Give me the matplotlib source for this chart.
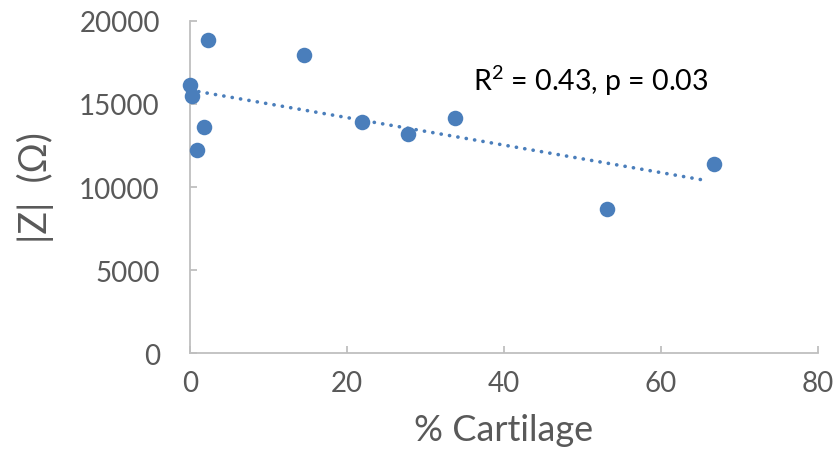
import numpy as np
import matplotlib
matplotlib.use('Agg')
import matplotlib.pyplot as plt

plt.rcParams['font.family'] = ['Lato', 'DejaVu Sans']
plt.rcParams['mathtext.fontset'] = 'custom'
plt.rcParams['mathtext.rm'] = 'Lato'
plt.rcParams['mathtext.it'] = 'Lato:italic'

# data
cartilage = [0.0, 0.2, 0.9, 1.8, 2.2, 14.5, 21.9, 27.8, 33.8, 53.1, 66.8]
impedance = [16160, 15500, 12240, 13620, 18850, 17960, 13920, 13200, 14140, 8680, 11380]
x_ticks = [0, 20, 40, 60, 80]
y_ticks = [0, 5000, 10000, 15000, 20000]

blue = '#4a7ebb'
grey = '#595959'
spine_grey = '#bfbfbf'

fig = plt.figure(figsize=(8.33, 4.56), dpi=100)
ax = fig.add_axes([0.2285, 0.223, 0.7531, 0.7294])

ax.scatter(cartilage, impedance, s=125, color=blue, zorder=3, linewidths=0, clip_on=False)

# linear trendline (like Excel)
k, b = np.polyfit(cartilage, impedance, 1)
xs = np.array([min(cartilage), max(cartilage) - 0.8])
ax.plot(xs, k * xs + b, color=blue, lw=2.6, linestyle=(0, (0.05, 2.3)),
        dash_capstyle='round', zorder=2)

ax.text(36.0, 16450, 'R$^2$ = 0.43, p = 0.03', fontsize=20.5, color='black',
        ha='left', va='center')

ax.set_xlim(0, 80)
ax.set_ylim(0, 20000)
ax.set_xticks(x_ticks)
ax.set_yticks(y_ticks)
ax.set_xticklabels([str(v) for v in x_ticks])
ax.set_yticklabels([str(v) for v in y_ticks])

for s in ['top', 'right']:
    ax.spines[s].set_visible(False)
for s in ['left', 'bottom']:
    ax.spines[s].set_color(spine_grey)
    ax.spines[s].set_linewidth(1.3)

ax.tick_params(axis='both', direction='in', length=5, width=1.3, color=spine_grey,
               labelcolor=grey, labelsize=20)
ax.tick_params(axis='y', pad=22)
ax.tick_params(axis='x', pad=12)

ax.set_xlabel('% Cartilage', fontsize=26, color=grey, labelpad=12)
ax.set_ylabel('|Z|  (Ω)', fontsize=27, color=grey, labelpad=18)

fig.savefig('out.png', dpi=100)
